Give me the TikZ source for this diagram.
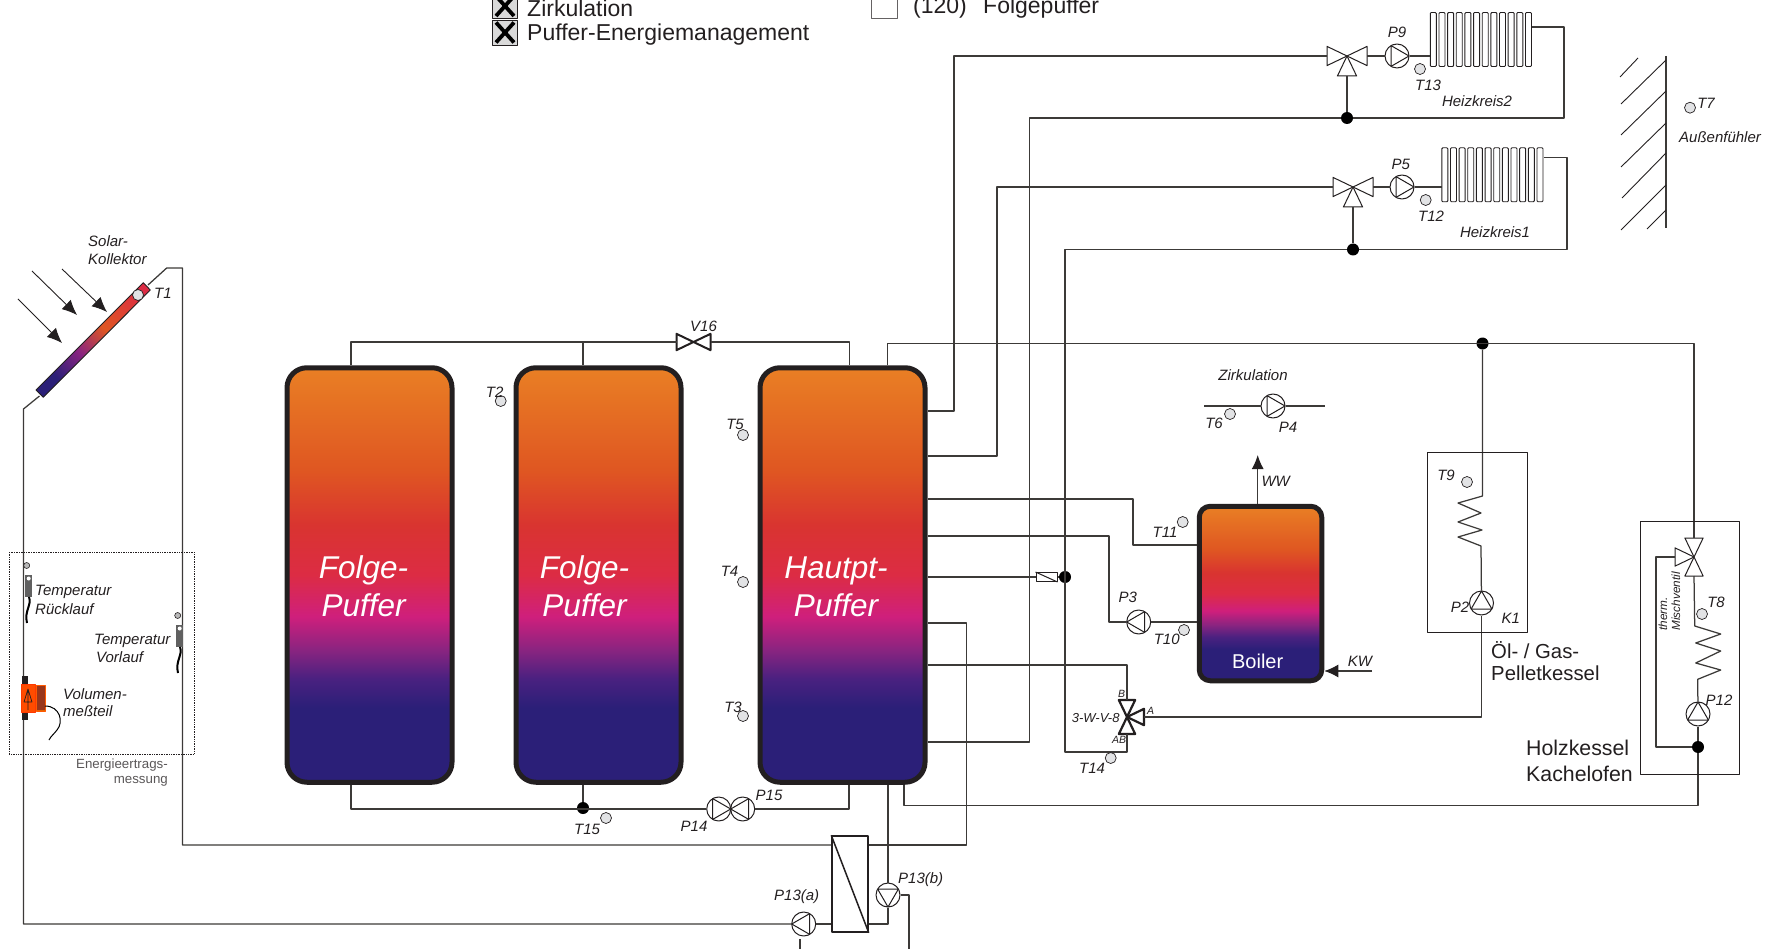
\documentclass[tikz,border=0pt]{standalone}
\usepackage{fontspec}
\setmainfont{Liberation Sans}
\usetikzlibrary{arrows.meta}
\definecolor{inkc}{HTML}{231F20}
\definecolor{pipec}{HTML}{3C3A38}
\definecolor{dotc}{HTML}{E2E3E5}
\definecolor{tkA}{HTML}{E97F24}
\definecolor{tkB}{HTML}{DF5622}
\definecolor{tkC}{HTML}{D93430}
\definecolor{tkD}{HTML}{DC2C44}
\definecolor{tkE}{HTML}{CF1F7C}
\definecolor{tkF}{HTML}{8A2480}
\definecolor{tkG}{HTML}{4A2180}
\definecolor{tkH}{HTML}{2B1F78}
\pgfdeclareverticalshading{tankfill}{100bp}{color(0bp)=(tkH); color(34bp)=(tkH); color(37.5bp)=(tkG); color(41bp)=(tkF); color(45bp)=(tkE); color(50bp)=(tkD); color(56bp)=(tkC); color(62.5bp)=(tkB); color(75bp)=(tkA); color(100bp)=(tkA)}
\pgfdeclareverticalshading{collfill}{100bp}{color(0bp)=(tkH); color(27bp)=(tkH); color(42bp)=(tkF); color(57bp)=(tkB); color(80bp)=(tkD); color(100bp)=(tkD)}
\tikzset{
	pipe/.style={draw=pipec, line width=1.25pt},
	tank/.style={draw=inkc, line width=5pt, shading=tankfill, inner sep=0pt},
	pump/.style={circle, draw=inkc, fill=white, line width=1pt, minimum size=24pt, inner sep=0pt},
	valve/.style={inner sep=0pt, outer sep=0pt},
	tdot/.style={circle, draw=inkc, fill=dotc, line width=0.7pt, minimum size=11pt, inner sep=0pt},
	junc/.style={circle, fill=black, minimum size=12pt, inner sep=0pt},
	lab/.style={text=inkc, inner sep=0pt, font=\fontsize{15}{18}\selectfont\itshape},
	tinylab/.style={text=inkc, inner sep=0pt, font=\fontsize{10.5}{12}\selectfont\itshape},
	bigwhite/.style={text=white, inner sep=0pt, font=\fontsize{31.5}{36}\selectfont\itshape},
	plain/.style={text=inkc, inner sep=0pt, anchor=west, font=\fontsize{21.3}{24}\selectfont},
	head/.style={text=inkc, inner sep=0pt, anchor=west, font=\fontsize{23}{26}\selectfont},
	fin/.style={draw=inkc, fill=white, line width=0.9pt, rounded corners=1pt},
	cable/.style={draw=black, line width=2pt},
	sunray/.style={draw=inkc, line width=0.9pt, -{Latex[length=15pt,width=13pt]}},
}
\begin{document}
\begin{tikzpicture}[x=1pt, y=-1pt, line join = round]
	\useasboundingbox (0,0) rectangle (1776,949);
	% tanks
	\node[tank, minimum width=165pt, minimum height=414.5pt, rounded corners=20pt] (tankA) at (369.5,575) {};
	\node[tank, minimum width=165pt, minimum height=414.5pt, rounded corners=20pt] (tankB) at (598.5,575) {};
	\node[tank, minimum width=165pt, minimum height=414.5pt, rounded corners=20pt] (tankC) at (842.5,575) {};
	\node[tank, minimum width=122.5pt, minimum height=174.5pt, rounded corners=11pt] (boiler) at (1260.5,593.5) {};
	% pumps
	\foreach \name/\px/\py/\ang in {P9/1397/56/0, P5/1402/187/0, P4/1273/406/0, P3/1138.7/622/180, P2/1481.5/603/90, P12/1698/714/90, P14/718.7/809/0, P15/742.7/809/180, P13a/803.7/924/180, P13b/888/895/270}
	{
		\node[pump] (\name) at (\px,\py) {};
		\draw[inkc, line width=1pt, shift={(\name.center)}, rotate=\ang] (12,0) -- (-6,10.4) -- (-6,-10.4) -- cycle;
	}
	% valves
	\foreach \name/\px/\py/\size/\thk/\arms in {V2/1347/56/20/1/{0,180,270}, V1/1353/187/20/1/{0,180,270}, VH/1694/557/19/1/{90,270,180}, WV/1127/717/17/2.2/{90,270,0}, V16/693.5/342/17/2/{0,180}}
	{
		\node[valve, minimum size=2*\size] (\name) at (\px,\py) {};
		\foreach \a in \arms
			\draw[inkc, fill=white, line width=\thk pt, shift={(\name.center)}, rotate=\a] (0,0) -- (\size,0.48*\size) -- (\size,-0.48*\size) -- cycle;
	}
	% radiators
	\node[inner sep=0pt, minimum width=101pt, minimum height=54pt] (rad2) at (1481,39.7) {};
	\node[inner sep=0pt, minimum width=102pt, minimum height=54pt] (rad1) at (1493,175) {};
	\foreach \r in {rad1,rad2}
		\foreach \i in {0,...,11}
			\draw[fin, shift={(\r.north west)}] ({\i*8.65},0) rectangle ++(6,54);
	% joints
	\foreach \name/\px/\py in {J2/1347/118, J1/1353/249.5, JT/1065/577, JG/1482.5/343.5, JH/1698/747, J15/583/808}
		\node[junc] (\name) at (\px,\py) {};
	\coordinate (vl2) at (954,411);
	\coordinate (vl1) at (997,456);
	\coordinate (rl2) at (1029.5,742);
	\coordinate (rl1) at (1065,752);
	\coordinate (ret2) at (1564,27);
	\coordinate (ret1) at (1567,157.7);
	\coordinate (b8) at (1127,665);
	\coordinate (mn) at (887.5,343.5);
	\coordinate (bh) at (904,805.5);
	\coordinate (mv) at (1656,747);
	\coordinate (tl) at (351,342);
	\coordinate (tm) at (583,342);
	\coordinate (tr) at (849.5,342);
	\coordinate (bl) at (351,809);
	\coordinate (br) at (849,809);
	\coordinate (b11) at (1133,499);
	\coordinate (b11b) at (1133,545);
	\coordinate (b3) at (1109,536);
	\coordinate (sa) at (148,285);
	\coordinate (sb) at (166.7,268);
	\coordinate (sc) at (182.5,268);
	\coordinate (sd) at (182.5,845);
	\coordinate (se) at (39.5,396);
	\coordinate (sf) at (23.5,409);
	\coordinate (sg) at (23.5,924);
	\coordinate (hr) at (966.5,845);
	\coordinate (hr2) at (966.5,623);
	\coordinate (hb) at (888,924);
	\coordinate (ra) at (909,949);
	\coordinate (stuba) at (800,939);
	\coordinate (stubb) at (800,949);
	\coordinate (zl) at (1204,406);
	\coordinate (zr) at (1325,406);
	\coordinate (kwin) at (1372,671);
	\coordinate (wwout) at (1257.7,455);
	\node[draw=inkc, fill=white, line width=1pt, inner sep=0pt, minimum width=21pt, minimum height=9pt] (chk) at (1046.5,577) {};
	\node[draw=inkc, line width=1.5pt, inner sep=0pt, minimum width=36pt, minimum height=96pt] (HX) at (850,884) {};
	\draw[inkc, line width=1pt] (chk.north west) -- (chk.south east);
	\draw[inkc, line width=1.5pt] (HX.north west) -- (HX.south east);
	% heating circuits
	\draw[pipe] (tankC.east |- vl2) -- (vl2) |- (V2.west);
	\draw[pipe] (tankC.east |- vl1) -- (vl1) |- (V1.west);
	\draw[pipe] (tankC.east |- rl2) -- (rl2) |- (J2);
	\draw[pipe] (J1) -| (rl1) -| (WV.south);
	\draw[pipe] (V2.east) -- (P9) -- (rad2.west |- P9);
	\draw[pipe] (V1.east) -- (P5) -- (rad1.west |- P5);
	\draw[pipe] (J2) -- (V2.south);
	\draw[pipe] (J1) -- (V1.south);
	\draw[pipe] (J2) -| (ret2) -- (rad2.east |- ret2);
	\draw[pipe] (J1) -| (ret1) -- (rad1.east |- ret1);
	% boiler and tank outlets
	\draw[pipe] (tankC.east |- b11) -- (b11) -- (b11b) -- (boiler.west |- b11b);
	\draw[pipe] (tankC.east |- b3) -- (b3) |- (P3);
	\draw[pipe] (P3) -- (boiler.west |- P3);
	\draw[pipe] (tankC.east |- chk) -- (chk);
	\draw[pipe] (chk) -- (JT);
	\draw[pipe] (tankC.east |- b8) -| (WV.north);
	\draw[pipe] (WV.east) -| (P2);
	\draw[pipe] (zl) -- (P4) -- (zr);
	\draw[pipe, -{Latex[length=14pt,width=12pt,color=inkc]}] (boiler.north -| wwout) -- (wwout);
	\draw[pipe, -{Latex[length=14pt,width=13pt,color=inkc]}] (kwin) -- (boiler.east |- kwin);
	% boilers on the right
	\draw[pipe] (tankC.north -| mn) -- (mn) -| (VH.north);
	\draw[pipe] (P2) -- (1481,546) -- ++(-23,-9) -- ++(24,-7) -- ++(-24,-8) -- ++(23,-9) -- ++(-23,-10) -- ++(24.5,-7) -- (JG);
	\draw[pipe] (VH.south) -- (1694.7,626) -- ++(26,8) -- ++(-25,9) -- ++(25,8) -- ++(-25,12) -- ++(25,7) -- ++(-23,9.3) -- (P12);
	\draw[pipe] (P12) -- (JH);
	\draw[pipe] (JH) |- (bh) -- (tankC.south -| bh);
	\draw[pipe] (VH.west) -| (mv) -- (JH);
	\draw[inkc, line width=1pt] (1427,452.7) rectangle (1527,632);
	\draw[inkc, line width=1pt] (1640,521) rectangle (1739,774);
	% tank links
	\draw[pipe] (tankA.north -| tl) -- (tl) -- (V16.west);
	\draw[pipe] (V16.east) -- (tr) -- (tankC.north -| tr);
	\draw[pipe] (tm) -- (tankB.north -| tm);
	\draw[pipe] (tankA.south -| bl) -- (bl) -- (P14);
	\draw[pipe] (J15) -- (tankB.south -| J15);
	\draw[pipe] (P15) -- (br) -- (tankC.south -| br);
	% solar
	\draw[pipe] (sa) -- (sb) -- (sc) -- (sd) -- (HX.west |- sd);
	\draw[pipe] (HX.east |- hr) -- (hr) -- (hr2) -- (tankC.east |- hr2);
	\draw[pipe] (se) -- (sf) -- (sg) -- (P13a);
	\draw[pipe] (P13a) -- (HX.west |- P13a);
	\draw[pipe] (HX.east |- hb) -- (hb) -- (P13b);
	\draw[pipe] (P13b) -- (tankC.south -| P13b);
	\draw[pipe] (P13b.east) -| (ra);
	\draw[pipe] (stuba) -- (stubb);
	\shade[shading=collfill, shading angle=-45, draw=inkc, line width=0.9pt] (143.3,282.7) -- (150.3,290) -- (43.3,397.3) -- (36,390) -- cycle;
	\draw[sunray] (18,299) -- (62,343);
	\draw[sunray] (32,271) -- (77,315);
	\draw[sunray] (62,269) -- (107,312);
	% wall
	\draw[pipe] (1666,56) -- (1666,228);
	\foreach \ax/\ay/\bx/\by in {1638/58/1620/77, 1666/60/1621/104, 1666/91/1621/135, 1666/123/1621/167, 1666/153/1622/198, 1666/185/1621/230, 1666/210/1647/229}
		\draw[inkc, line width=0.9pt] (\ax,\ay) -- (\bx,\by);
	% sensors
	\foreach \name/\px/\py in {tT1/138/295, tT2/500.7/401, tT5/743/435, tT4/743/582, tT3/743/716, tT15/606/818, tT13/1420/69, tT12/1425.7/200, tT7/1690/107.7, tT6/1230/414, tT11/1182.7/522, tT10/1184/630, tT14/1110.7/758, tT9/1467/482, tT8/1702/614}
		\node[tdot] (\name) at (\px,\py) {};
	% energy metering
	\draw[inkc, line width=0.7pt, densely dotted] (9,552) rectangle (194,754);
	\foreach \sx/\sy in {25/575, 176/625}
	{
		\node[circle, draw=inkc, fill=gray!55, line width=0.6pt, minimum size=6pt, inner sep=0pt] (sen\sx) at ({\sx+1.7},{\sy-9.5}) {};
		\fill[gray!75!black] (\sx,\sy) rectangle ++(7,22);
		\fill[white] ({\sx+3.7},{\sy+3.5}) circle (2pt);
		\draw[cable] ({\sx+4},{\sy+22}) .. controls ({\sx+7},{\sy+30}) and ({\sx-1},{\sy+36}) .. ({\sx+2},{\sy+48});
	}
	\fill[inkc] (22,676) rectangle (28,720);
	\draw[orange!70!red, fill=orange!85!red!90!black, line width=1pt] (36,685) rectangle (45,711);
	\fill[brown!60!red!70!black] (36.5,686) rectangle (44.5,710);
	\draw[red!55!orange, fill=red!40!orange, line width=1pt] (21,684) rectangle (35,712);
	\draw[inkc, line width=0.7pt] (28,689) -- (24,702) -- (32,702) -- cycle (28,689) -- (28,710);
	\draw[black, line width=1pt] (45,706) .. controls (60,706) and (64,722) .. (57,730) .. controls (54,734) and (51,736) .. (49,740);
	% texts
	\foreach \name/\px/\py/\txt in {lT1/163/293/T1, lT2/494.6/392/T2, lT5/735/424/T5, lT4/729.5/571/T4, lT3/733/707/T3, lT15/587/829/T15, lT13/1428/85/T13, lT12/1431/216/T12, lT7/1706/103/T7, lT6/1214/423/T6, lT11/1165/532/T11, lT10/1166.7/639/T10, lT14/1092/768/T14, lT9/1446/475/T9, lT8/1716/602/T8, lP9/1397/32/P9, lP5/1400.7/164/P5, lP4/1288/427/P4, lP3/1127.7/597/P3, lP2/1460/607/P2, lP12/1719/700/P12, lP14/694/826/P14, lP15/769/795/P15, lPa/796.7/897/P13(a), lPb/920.7/880/P13(b), lV16/703.5/326/V16, lK1/1510.7/618/K1, lWW/1275.7/481/WW, lKW/1360/661/KW, lHk2/1477/101/Heizkreis2, lHk1/1495/232/Heizkreis1, lAus/1720/137/Außenfühler, lZirk/1253/375/Zirkulation}
		\node[lab] (\name) at (\px,\py) {\txt};
	\foreach \name/\px/\py/\txt in {lSa/88/241/Solar-, lSb/88/259/Kollektor, lTa/35/592/Temperatur, lTb/35/609/Rücklauf, lTc/94/641/Temperatur, lTd/96/657/Vorlauf, lVa/63/694/Volumen-, lVb/63/711/meßteil}
		\node[lab, anchor=west] (\name) at (\px,\py) {\txt};
	\node[tinylab] (lB) at (1121.7,694) {B};
	\node[tinylab] (lA) at (1150.7,711) {A};
	\node[tinylab] (lAB) at (1119,740) {AB};
	\node[lab, font=\fontsize{13}{15}\selectfont\itshape] (lWV) at (1095.7,717.7) {3-W-V-8};
	\node[lab, anchor=west, rotate=90, font=\fontsize{11.8}{14}\selectfont\itshape] (lTh) at (1663,630.7) {therm.};
	\node[lab, anchor=west, rotate=90, font=\fontsize{11.8}{14}\selectfont\itshape] (lMi) at (1676,630.7) {Mischventil};
	\node[text=inkc!75, inner sep=0pt, anchor=east, font=\fontsize{13.3}{16}\selectfont] (lEa) at (168,765) {Energieertrags-};
	\node[text=inkc!75, inner sep=0pt, anchor=east, font=\fontsize{13.3}{16}\selectfont] (lEb) at (168,781) {messung};
	\node[bigwhite] (lAa) at (363.6,570.5) {Folge-};
	\node[bigwhite] (lAb) at (363.6,605) {Puffer};
	\node[bigwhite] (lBa) at (584.5,570.5) {Folge-};
	\node[bigwhite] (lBb) at (584.5,605) {Puffer};
	\node[bigwhite] (lCa) at (836,570.5) {Hautpt-};
	\node[bigwhite] (lCb) at (836,605) {Puffer};
	\node[text=white, inner sep=0pt, font=\fontsize{20}{24}\selectfont] (lBoil) at (1257.7,661) {Boiler};
	\node[plain, font=\fontsize{20.3}{24}\selectfont] (lOa) at (1491,650) {Öl- / Gas-};
	\node[plain, font=\fontsize{20.3}{24}\selectfont] (lOb) at (1491,673) {Pelletkessel};
	\node[plain] (lHa) at (1526,748) {Holzkessel};
	\node[plain] (lHb) at (1526,774) {Kachelofen};
	% options list
	\foreach \name/\py in {boxa/6, boxb/32.5}
	{
		\node[draw=inkc, fill=gray!30, line width=0.8pt, inner sep=0pt, minimum width=25pt, minimum height=25pt] (\name) at (505,\py) {};
		\draw[black, line width=3.8pt] ({505-9},{\py-10}) -- ({505+9},{\py+10}) ({505+9},{\py-10}) -- ({505-9},{\py+10});
	}
	\node[draw=inkc!70, fill=white, line width=0.8pt, inner sep=0pt, minimum width=26pt, minimum height=25pt] (boxc) at (884,6) {};
	\node[head] (lZa) at (527,8) {Zirkulation};
	\node[head] (lPe) at (527,34.5) {Puffer-Energiemanagement};
	\node[head] (lNr) at (913,8) {(120)};
	\node[head] (lFp) at (983,8) {Folgepuffer};
\end{tikzpicture}
\end{document}
